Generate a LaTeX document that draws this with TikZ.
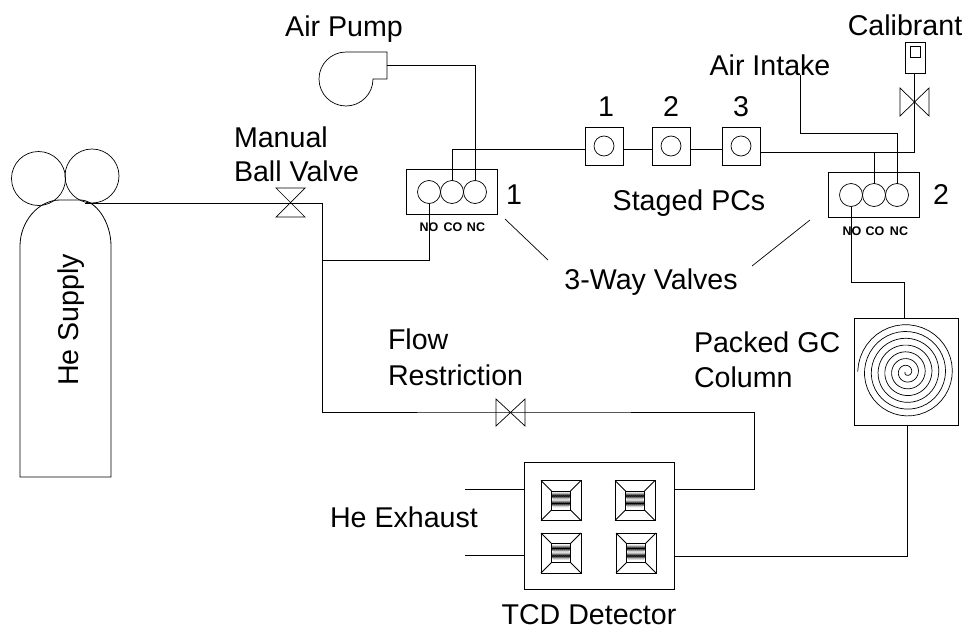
\documentclass[tikz,border=0pt]{standalone}
\usepackage{fontspec}
\setmainfont{Liberation Sans}
\usetikzlibrary{calc}
\tikzset{
  x=1pt,y=-1pt,
  pipe/.style={draw=black,line width=0.8pt},
  thin line/.style={draw=black,line width=0.7pt},
  port/.style={circle,draw=black,line width=0.7pt,minimum size=23pt,inner sep=0pt,outer sep=0pt},
  pcport/.style={circle,draw=black,line width=0.7pt,minimum size=20pt,inner sep=0pt,outer sep=0pt},
  pcbox/.style={rectangle,draw=black,line width=0.8pt,minimum size=38pt,inner sep=0pt,outer sep=0pt},
  boxed/.style={rectangle,draw=black,line width=0.8pt,inner sep=0pt,outer sep=0pt},
  lab/.style={font=\fontsize{28.6}{28.6}\selectfont,inner sep=0pt,outer sep=0pt,text=black},
  tiny lab/.style={font=\fontsize{12.5}{12.5}\selectfont\bfseries,inner sep=0pt,outer sep=0pt,text=black},
}
\newcommand{\tcdcell}[2]{%
  \begin{scope}[shift={(#1,#2)}]
    \draw[line width=0.9pt] (-20,-20) rectangle (20,20);
    \draw[line width=0.9pt] (-9.5,-9.5) rectangle (9.5,9.5);
    \draw[line width=0.9pt] (-20,-20)--(-9.5,-9.5) (20,-20)--(9.5,-9.5) (-20,20)--(-9.5,9.5) (20,20)--(9.5,9.5);
    \foreach \yy in {-4.5,3}{
      \draw[line width=0.7pt] plot[samples=19,domain=0:18] ({-9+\x},{\yy+2.2*cos(180*\x)});
    }
  \end{scope}}
\begin{document}
\begin{tikzpicture}
\useasboundingbox (0,0) rectangle (964,629);
\fill[white] (0,0) rectangle (964,629);

% He cylinder
\node[circle,draw,line width=0.7pt,minimum size=54pt,inner sep=0pt] (bottleA) at (38.5,178.5) {};
\node[circle,draw,line width=0.7pt,minimum size=54pt,inner sep=0pt] (bottleB) at (92,176) {};
\draw[line width=0.8pt] (20,246) .. controls (20,222) and (38,200) .. (60,200) -- (80,200) .. controls (96,200) and (111,222) .. (111,246) -- (111,477) -- (20,477) -- cycle;
\node[lab,rotate=90] (hesupply) at (71,320) {He Supply};

% Manual ball valve
\coordinate (mbv) at (290,203);
\draw[line width=0.7pt] (276,188)--(305,188)--(276,217)--(305,217)--cycle;

% Flow restriction valve
\coordinate (frv) at (510,412);
\draw[line width=0.7pt] (496,399)--(496,426)--(525,399)--(525,426)--cycle;

% Air pump
\coordinate (pumpout) at (387,65);
\draw[line width=0.7pt] (346,52)--(387,52)--(387,79)--(373,79) arc[start angle=0,delta angle=270,radius=27];

% Valve 1
\node[boxed,minimum width=91pt,minimum height=45pt] (vone) at (451.5,191.5) {};
\node[port] (vonea) at (429,192) {};
\node[port] (voneb) at (452,192) {};
\node[port] (vonec) at (475,192) {};

% Valve 2
\node[boxed,minimum width=91pt,minimum height=45pt] (vtwo) at (873.5,194.5) {};
\node[port] (vtwoa) at (851,195) {};
\node[port] (vtwob) at (874,195) {};
\node[port] (vtwoc) at (897,195) {};

% Staged PCs
\node[pcbox] (pca) at (604,146) {};
\node[pcbox] (pcb) at (671,146) {};
\node[pcbox] (pcc) at (741,146) {};
\node[pcport] at (604,146) {};
\node[pcport] at (671,146) {};
\node[pcport] at (741,146) {};

% Calibrant
\node[boxed,minimum width=20pt,minimum height=31pt] (calbox) at (915,57.5) {};
\draw[line width=0.7pt] (910,46) rectangle (920,57);
\coordinate (calv) at (914,102);
\draw[line width=0.7pt] (900,88)--(900,116)--(929,88)--(929,116)--cycle;

% Column
\node[boxed,minimum width=104pt,minimum height=107pt] (column) at (906,371.5) {};
\draw[line width=0.7pt] plot[samples=300,domain=0:7] ({906.7+(1.5+47.5*\x/7)*cos(180-360*(7-\x))},{372-(1.5+47.5*\x/7)*sin(180-360*(7-\x))});

% TCD
\node[boxed,minimum width=150pt,minimum height=127pt] (tcd) at (599,525.5) {};
\tcdcell{561}{500.5}
\tcdcell{635}{500.5}
\tcdcell{561}{553}
\tcdcell{636}{553}

% Pipes
\coordinate (bottleout) at (85,203);
\coordinate (tee) at (322,260);
\coordinate (corner) at (322,203);
\draw[pipe] (bottleout) -- (corner) -- (322,412) -- (frv) -- (754,412) -- (754,489) -- (tcd.east |- 0,489);
\draw[pipe] (tee) -- (429,260) -- (vonea.south);
\draw[pipe] (pumpout) -- (475,65) -- (vonec.north);
\draw[pipe] (voneb.north) -- (452,149) -- (pca.west |- 0,149);
\draw[pipe] (pca.east |- 0,149) -- (pcb.west |- 0,149);
\draw[pipe] (pcb.east |- 0,149) -- (pcc.west |- 0,149);
\draw[pipe] (pcc.east |- 0,152) -- (914,152) -- (calv) -- (calbox.south -| 914,0);
\draw[pipe] (vtwob.north) -- (874,152);
\coordinate (airin) at (800,75);
\draw[pipe] (airin) -- (800,133) -- (897,133) -- (vtwoc.north);
\draw[pipe] (vtwoa.south) -- (851,282) -- (904,282) -- (904,318);
\draw[pipe] (907,425) -- (907,556) -- (674,556);
\coordinate (exa) at (465,489);
\coordinate (exb) at (465,555);
\draw[pipe] (exa) -- (tcd.west |- exa);
\draw[pipe] (exb) -- (tcd.west |- exb);

% Labels
\node[lab] (airpump) at (344,29) {Air Pump};
\node[lab,anchor=base west] (manual) at (234,147) {Manual};
\node[lab,anchor=base west] (ballvalve) at (234,181) {Ball Valve};
\node[lab] (vlabone) at (514,195) {1};
\node[lab] (vlabtwo) at (941,195) {2};
\node[lab] (pcla) at (606,107) {1};
\node[lab] (pclb) at (671,107) {2};
\node[lab] (pclc) at (741,107) {3};
\node[lab] (staged) at (689,203) {Staged PCs};
\node[lab] (threeway) at (651,282) {3-Way Valves};
\node[lab,anchor=base west] (packed) at (694,352) {Packed GC};
\node[lab,anchor=base west] (columnlab) at (694,387) {Column};
\node[lab,anchor=base west] (flow) at (388,349) {Flow};
\node[lab,anchor=base west] (restr) at (388,385) {Restriction};
\node[lab] (heex) at (404,517) {He Exhaust};
\node[lab] (tcdlab) at (589,615) {TCD Detector};
\node[lab] (airintake) at (770,65) {Air Intake};
\node[lab] (calib) at (905,25) {Calibrant};
\node[tiny lab] at (429,227) {NO};
\node[tiny lab] at (453,227) {CO};
\node[tiny lab] at (476,227) {NC};
\node[tiny lab] at (852,231) {NO};
\node[tiny lab] at (875,231) {CO};
\node[tiny lab] at (899,231) {NC};

% Leaders
\coordinate (la) at (505,219);
\coordinate (lb) at (548,260);
\coordinate (lc) at (810,220);
\coordinate (ld) at (752,266);
\draw[thin line] (la) -- (lb);
\draw[thin line] (lc) -- (ld);
\end{tikzpicture}
\end{document}
